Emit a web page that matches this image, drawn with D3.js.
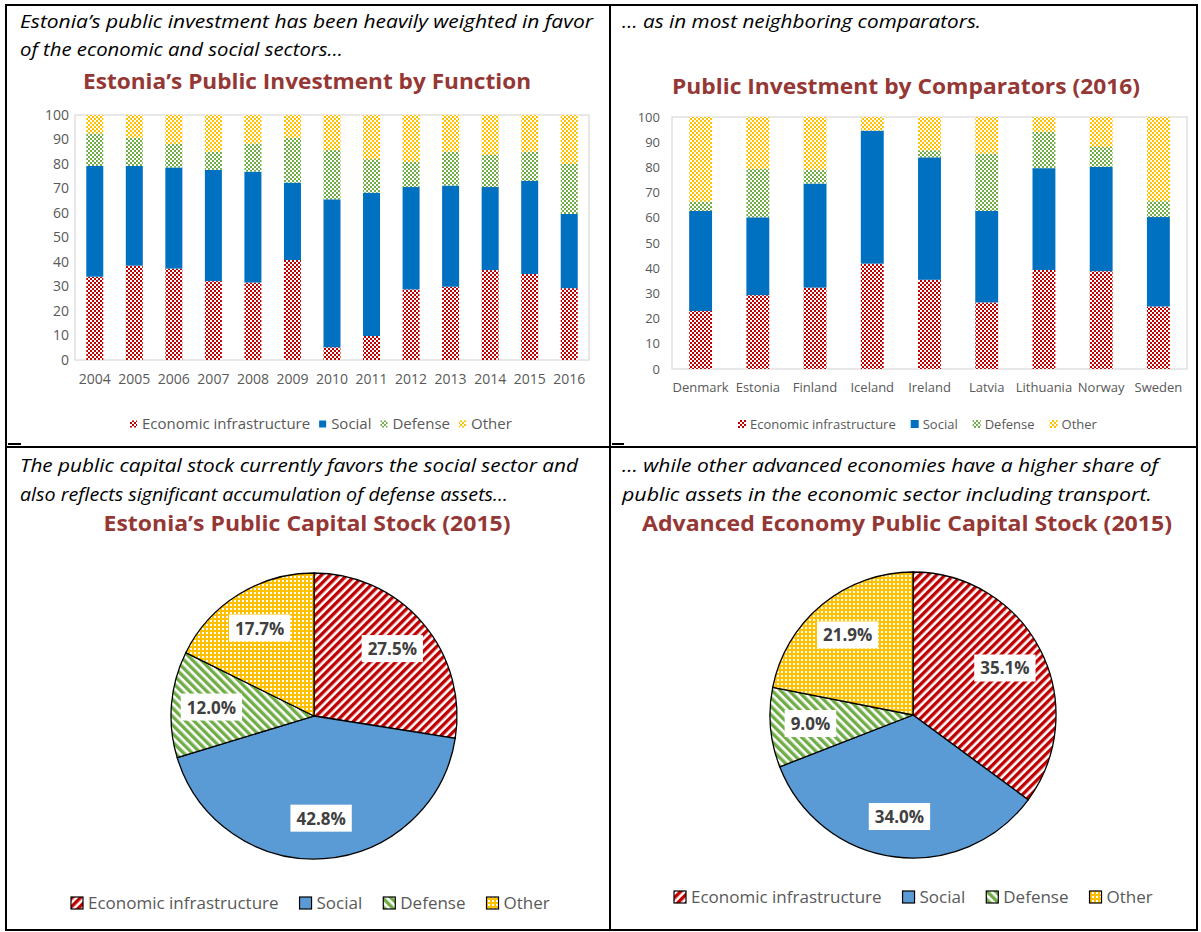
<!DOCTYPE html>
<html>
<head>
<meta charset="utf-8">
<script src="https://cdn.jsdelivr.net/npm/d3@7"></script>
<style>
  body { margin: 0; background: #fff; }
  text { font-family: "Open Sans", sans-serif; }
</style>
</head>
<body>
<svg id="chart" width="1201" height="932"></svg>
<script>
// ---- data ----
const seriesNames = ["Economic infrastructure", "Social", "Defense", "Other"];
const seriesKeys = ["econ", "social", "defense", "other"];

const years = ["2004", "2005", "2006", "2007", "2008", "2009", "2010", "2011", "2012", "2013", "2014", "2015", "2016"];
const yearEcon    = [34.0, 38.5, 37.3, 32.2, 31.6, 40.8,  5.2,  9.8, 28.8, 29.9, 36.7, 35.1, 29.3];
const yearSocial  = [45.2, 40.7, 41.3, 45.4, 45.3, 31.6, 60.4, 58.5, 41.8, 41.3, 33.9, 38.0, 30.3];
const yearDefense = [13.3, 11.5,  9.6,  7.4, 11.5, 18.3, 20.1, 13.7, 10.2, 13.8, 13.1, 11.9, 20.4];
const yearOther   = [ 7.5,  9.3, 11.8, 15.0, 11.6,  9.3, 14.3, 18.0, 19.2, 15.0, 16.3, 15.0, 20.0];

const countries = ["Denmark", "Estonia", "Finland", "Iceland", "Ireland", "Latvia", "Lithuania", "Norway", "Sweden"];
const countryEcon    = [23.0, 29.3, 32.3, 41.8, 35.4, 26.4, 39.3, 38.8, 24.8];
const countrySocial  = [39.7, 30.9, 41.3, 52.8, 48.6, 36.3, 40.4, 41.4, 35.5];
const countryDefense = [ 3.8, 19.2,  5.6,  0.0,  2.8, 22.8, 14.4,  7.9,  6.3];
const countryOther   = [33.5, 20.6, 20.8,  5.4, 13.2, 14.5,  5.9, 11.9, 33.4];

const estoniaStock  = [27.5, 42.8, 12.0, 17.7];
const advancedStock = [35.1, 34.0,  9.0, 21.9];

const yTicks = [0, 10, 20, 30, 40, 50, 60, 70, 80, 90, 100];

// ---- setup ----
const svg = d3.select("#chart");
const defs = svg.append("defs");
const titleColor = "#953735";
const axisColor = "#595959";

function checker(id, color) {
  const p = defs.append("pattern").attr("id", id)
    .attr("patternUnits", "userSpaceOnUse").attr("width", 4).attr("height", 4);
  p.append("rect").attr("width", 4).attr("height", 4).attr("fill", "#fff");
  p.append("rect").attr("width", 2).attr("height", 2).attr("fill", color);
  p.append("rect").attr("x", 2).attr("y", 2).attr("width", 2).attr("height", 2).attr("fill", color);
}
function stripes(id, color, angle) {
  const p = defs.append("pattern").attr("id", id)
    .attr("patternUnits", "userSpaceOnUse").attr("width", 6).attr("height", 6)
    .attr("patternTransform", `rotate(${angle})`);
  p.append("rect").attr("width", 6).attr("height", 6).attr("fill", "#fff");
  p.append("rect").attr("width", 3.4).attr("height", 6).attr("fill", color);
}
function dots(id, color) {
  const p = defs.append("pattern").attr("id", id)
    .attr("patternUnits", "userSpaceOnUse").attr("width", 4).attr("height", 4);
  p.append("rect").attr("width", 4).attr("height", 4).attr("fill", color);
  p.append("rect").attr("width", 2).attr("height", 2).attr("fill", "#fff");
}
checker("chkRed", "#C00000");
checker("chkGreen", "#70AD47");
checker("chkYellow", "#FFC000");
stripes("stRed", "#C00000", 45);
stripes("stGreen", "#70AD47", -45);
dots("dotYellow", "#FFC000");

const barFills = ["url(#chkRed)", "#0070C0", "url(#chkGreen)", "url(#chkYellow)"];
const pieFills = ["url(#stRed)", "#5B9BD5", "url(#stGreen)", "url(#dotYellow)"];

// ---- table frame ----
const frame = svg.append("g").attr("stroke", "#000").attr("stroke-width", 2);
frame.append("rect").attr("x", 6).attr("y", 5).attr("width", 1191).attr("height", 925).attr("fill", "none");
frame.append("line").attr("x1", 610).attr("x2", 610).attr("y1", 5).attr("y2", 930);
frame.append("line").attr("x1", 6).attr("x2", 1197).attr("y1", 447).attr("y2", 447);
frame.append("line").attr("x1", 8).attr("x2", 21).attr("y1", 444).attr("y2", 444);
frame.append("line").attr("x1", 612).attr("x2", 624).attr("y1", 444).attr("y2", 444);

// ---- text helpers ----
function fitText(x, y, str, opts) {
  const t = svg.append("text").attr("x", x).attr("y", y).text(str)
    .attr("font-size", opts.size)
    .attr("fill", opts.color || "#000")
    .attr("font-weight", opts.weight || "normal")
    .attr("font-style", opts.italic ? "italic" : "normal")
    .attr("text-anchor", opts.anchor || "start");
  if (opts.width) t.attr("textLength", opts.width).attr("lengthAdjust", "spacingAndGlyphs");
  return t;
}

// captions
fitText(20, 28, "Estonia\u2019s public investment has been heavily weighted in favor", {size: 18, italic: true, width: 573});
fitText(20, 56, "of the economic and social sectors\u2026", {size: 18, italic: true, width: 323});
fitText(622, 28, "\u2026 as in most neighboring comparators.", {size: 18, italic: true, width: 359});
fitText(20, 472, "The public capital stock currently favors the social sector and", {size: 18, italic: true, width: 558});
fitText(20, 501, "also reflects significant accumulation of defense assets\u2026", {size: 18, italic: true, width: 488});
fitText(622, 472, "\u2026 while other advanced economies have a higher share of", {size: 18, italic: true, width: 536});
fitText(622, 501, "public assets in the economic sector including transport.", {size: 18, italic: true, width: 530});

// titles
fitText(307, 89, "Estonia\u2019s Public Investment by Function", {size: 22, weight: "bold", color: titleColor, anchor: "middle", width: 448});
fitText(906, 94, "Public Investment by Comparators (2016)", {size: 22, weight: "bold", color: titleColor, anchor: "middle", width: 468});
fitText(307, 531, "Estonia\u2019s Public Capital Stock (2015)", {size: 22, weight: "bold", color: titleColor, anchor: "middle", width: 407});
fitText(907, 531, "Advanced Economy Public Capital Stock (2015)", {size: 22, weight: "bold", color: titleColor, anchor: "middle", width: 530});

// ---- stacked bar charts ----
function barChart(labels, cols, o) {
  const rows = labels.map((lab, i) => {
    const r = {label: lab};
    seriesKeys.forEach((k, j) => r[k] = cols[j][i]);
    return r;
  });
  const x = d3.scaleBand().domain(labels).range([o.left, o.right])
    .paddingInner(o.pad).paddingOuter(o.pad / 2);
  const y = d3.scaleLinear().domain([0, 100]).range([o.bottom, o.top]);
  const g = svg.append("g");

  g.append("rect").attr("x", o.left).attr("y", o.top)
    .attr("width", o.right - o.left).attr("height", o.bottom - o.top)
    .attr("fill", "none").attr("stroke", "#D9D9D9").attr("stroke-width", 1.2);

  const stacked = d3.stack().keys(seriesKeys)(rows);
  g.selectAll("g.series").data(stacked).enter().append("g")
    .attr("fill", (d, i) => barFills[i])
    .selectAll("rect").data(d => d).enter().append("rect")
    .attr("x", d => x(d.data.label))
    .attr("y", d => y(d[1]))
    .attr("width", x.bandwidth())
    .attr("height", d => y(d[0]) - y(d[1]));

  const ya = g.append("g").attr("transform", `translate(${o.left},0)`)
    .call(d3.axisLeft(y).tickValues(yTicks).tickSize(0).tickPadding(o.yPad));
  const xa = g.append("g").attr("transform", `translate(0,${o.bottom})`)
    .call(d3.axisBottom(x).tickSize(0).tickPadding(o.xPad));
  [ya, xa].forEach(a => {
    a.select(".domain").remove();
    a.selectAll("text").attr("fill", axisColor).attr("font-size", o.fontSize)
      .attr("font-family", "'Open Sans', sans-serif");
  });
}

barChart(years, [yearEcon, yearSocial, yearDefense, yearOther],
  {left: 75, right: 589, top: 115, bottom: 360, pad: 0.57, yPad: 6, xPad: 14, fontSize: 14});
barChart(countries, [countryEcon, countrySocial, countryDefense, countryOther],
  {left: 672, right: 1187, top: 117, bottom: 369, pad: 0.6, yPad: 12, xPad: 14, fontSize: 13});

// ---- pies ----
function pieChart(values, cx, cy, r) {
  const g = svg.append("g").attr("transform", `translate(${cx},${cy})`);
  const arcs = d3.pie().sort(null).value(d => d)(values);
  const arc = d3.arc().innerRadius(0).outerRadius(r);
  const labelArc = d3.arc().innerRadius(r * 0.72).outerRadius(r * 0.72);
  g.selectAll("path").data(arcs).enter().append("path")
    .attr("d", arc).attr("fill", (d, i) => pieFills[i])
    .attr("stroke", "#000").attr("stroke-width", 1.3);
  arcs.forEach(a => {
    const [lx, ly] = labelArc.centroid(a);
    const lg = g.append("g").attr("transform", `translate(${lx},${ly})`);
    const box = lg.append("rect").attr("fill", "#fff");
    const t = lg.append("text").attr("text-anchor", "middle").attr("dy", "0.35em")
      .attr("font-size", 17).attr("font-weight", "bold").attr("fill", "#404040")
      .text(d3.format(".1f")(a.data) + "%");
    const bb = t.node().getBBox();
    box.attr("x", bb.x - 6).attr("y", bb.y - 2).attr("width", bb.width + 12).attr("height", bb.height + 4);
  });
}
pieChart(estoniaStock, 314, 716, 143);
pieChart(advancedStock, 913, 715, 143);

// ---- legends ----
function legend(x0, y0, o) {
  const g = svg.append("g");
  let x = x0;
  seriesNames.forEach((name, i) => {
    g.append("rect").attr("x", x).attr("y", y0 - o.sw / 2).attr("width", o.sw).attr("height", o.sw)
      .attr("fill", o.fills[i])
      .attr("stroke", o.border ? "#000" : "none").attr("stroke-width", 1.2);
    const t = g.append("text").attr("x", x + o.sw + o.tg).attr("y", y0).attr("dy", "0.35em")
      .attr("font-size", o.size).attr("fill", axisColor).text(name);
    x += o.sw + o.tg + t.node().getComputedTextLength() + o.gap;
  });
}
legend(130, 424, {sw: 7, tg: 5, size: 15, gap: 9, fills: barFills, border: false});
legend(738, 424, {sw: 8, tg: 4, size: 13, gap: 15, fills: barFills, border: false});
legend(71, 903, {sw: 12, tg: 5, size: 17, gap: 21, fills: pieFills, border: true});
legend(674, 897, {sw: 12, tg: 5, size: 17, gap: 21, fills: pieFills, border: true});
</script>
</body>
</html>
